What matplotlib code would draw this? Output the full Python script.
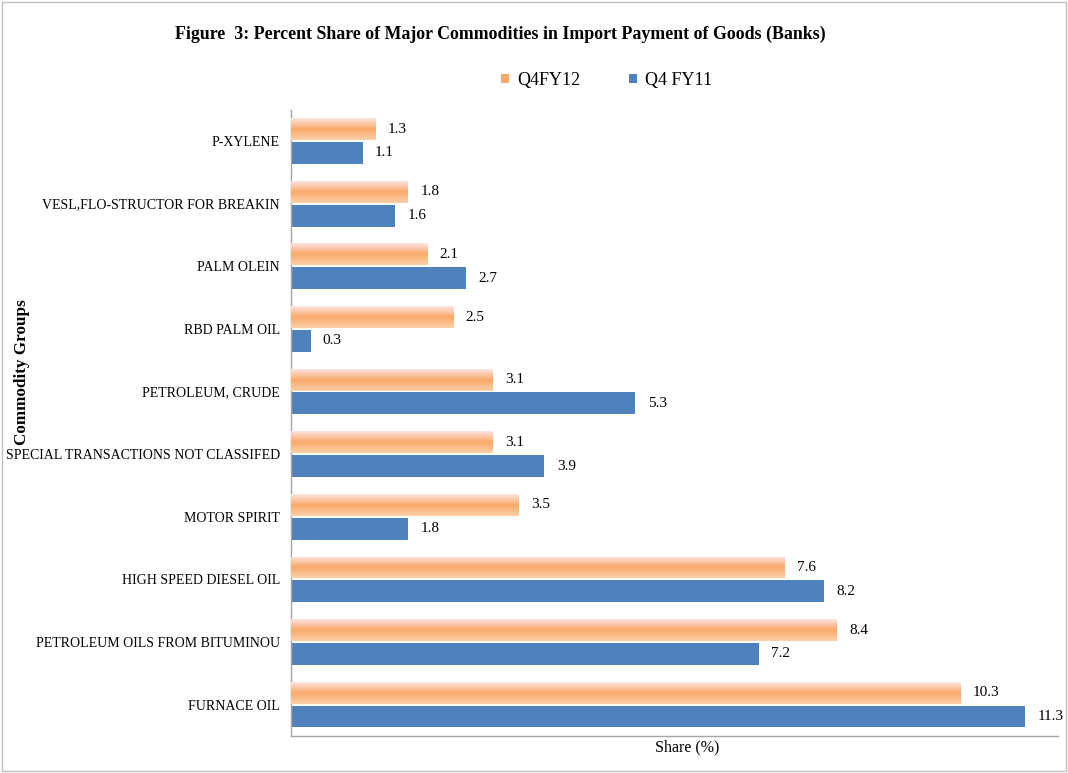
import numpy as np
import matplotlib
matplotlib.use("Agg")
import matplotlib.pyplot as plt
from matplotlib.colors import LinearSegmentedColormap
from matplotlib.patches import Rectangle

# data, top to bottom as in the chart
commodities = ['P-XYLENE', 'VESL,FLO-STRUCTOR FOR BREAKIN', 'PALM OLEIN', 'RBD PALM OIL',
               'PETROLEUM, CRUDE', 'SPECIAL TRANSACTIONS NOT CLASSIFED', 'MOTOR SPIRIT',
               'HIGH SPEED DIESEL OIL', 'PETROLEUM OILS FROM BITUMINOU', 'FURNACE OIL']
q4fy12 = [1.3, 1.8, 2.1, 2.5, 3.1, 3.1, 3.5, 7.6, 8.4, 10.3]
q4fy11 = [1.1, 1.6, 2.7, 0.3, 5.3, 3.9, 1.8, 8.2, 7.2, 11.3]

plt.rcParams['font.family'] = ['Liberation Serif', 'DejaVu Serif']

fig = plt.figure(figsize=(10.68, 7.73), dpi=100)
ax = fig.add_axes([0.2725, 0.048, 0.718, 0.81])

y = np.arange(len(commodities))
h = 0.35
off = 0.19
orange = '#f9a968'
blue = '#4f81bd'

bars_o = ax.barh(y - off, q4fy12, height=h, color=orange, label='Q4FY12', zorder=2)
bars_b = ax.barh(y + off, q4fy11, height=h, color=blue, label='Q4 FY11', zorder=2)

# gradient fill on the orange bars (pink top -> orange middle -> light bottom)
grad = LinearSegmentedColormap.from_list('g', ['#fde4e2', '#f9a968', '#fbd0aa'])
gimg = np.linspace(0, 1, 64).reshape(-1, 1)
for b in bars_o:
    x0, y0 = b.get_x(), b.get_y()
    w, hh = b.get_width(), b.get_height()
    im = ax.imshow(gimg, cmap=grad, aspect='auto', extent=(x0, x0 + w, y0 + hh, y0),
                   origin='upper', zorder=3, interpolation='bilinear')
    im.set_clip_path(Rectangle((x0, y0), w, hh, transform=ax.transData))

for b, v in zip(bars_o, q4fy12):
    ax.text(v + 0.19, b.get_y() + b.get_height() / 2, f'{v:.1f}', va='center', ha='left', fontsize=11)
for b, v in zip(bars_b, q4fy11):
    ax.text(v + 0.19, b.get_y() + b.get_height() / 2, f'{v:.1f}', va='center', ha='left', fontsize=11)

ax.set_xlim(0, 11.8)
ax.set_ylim(len(commodities) - 0.5, -0.5)
ax.set_yticks(y)
ax.set_yticklabels(commodities, fontsize=10)
ax.tick_params(axis='y', length=0, pad=8)
ax.set_xticks([])
ax.set_xlabel('Share (%)', fontsize=11.5)
ax.xaxis.set_label_coords(0.516, -0.006, transform=ax.transAxes)
ax.xaxis.label.set_va('top')

for s in ['top', 'right']:
    ax.spines[s].set_visible(False)
for s in ['left', 'bottom']:
    ax.spines[s].set_color('#a6a6a6')
    ax.spines[s].set_linewidth(1.0)

fig.text(0.468, 0.955, 'Figure  3: Percent Share of Major Commodities in Import Payment of Goods (Banks)',
         ha='center', va='center', fontsize=12.9, fontweight='bold')
fig.text(0.021, 0.519, 'Commodity Groups', rotation=90, ha='center', va='center',
         fontsize=12.3, fontweight='bold')

leg = fig.legend(handles=[bars_o, bars_b], labels=['Q4FY12', 'Q4 FY11'], loc='center',
                 bbox_to_anchor=(0.568, 0.896), ncol=2, frameon=False, fontsize=13,
                 handlelength=0.45, handleheight=0.45, handletextpad=0.45, columnspacing=2.7)

fig.patches.append(Rectangle((0.002, 0.002), 0.996, 0.996, transform=fig.transFigure,
                             fill=False, edgecolor='#bfbfbf', linewidth=1))

fig.savefig('out.png', dpi=100)
